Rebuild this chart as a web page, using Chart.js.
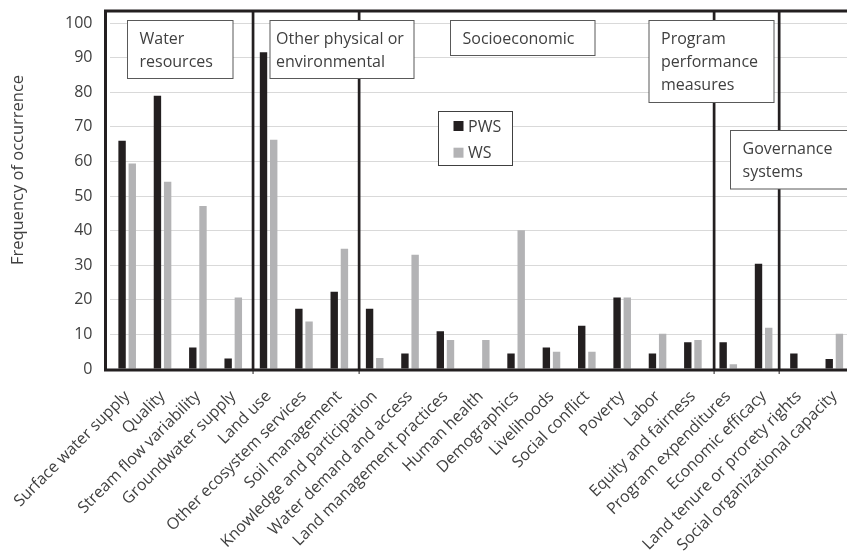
<!DOCTYPE html>
<html>
<head>
<meta charset="utf-8">
<script src="https://cdn.jsdelivr.net/npm/chart.js@4.4.1/dist/chart.umd.min.js"></script>
<style>
  html, body { margin: 0; padding: 0; background: #fff; overflow: hidden; }
  canvas { display: block; }
</style>
</head>
<body>
<canvas id="chart" width="852" height="558"></canvas>
<script>
// categories and values
const categories = [
    'Surface water supply', 'Quality', 'Stream flow variability', 'Groundwater supply',
    'Land use', 'Other ecosystem services', 'Soil management',
    'Knowledge and participation', 'Water demand and access', 'Land management practices',
    'Human health', 'Demographics', 'Livelihoods', 'Social conflict', 'Poverty', 'Labor',
    'Equity and fairness', 'Program expenditures', 'Economic efficacy',
    'Land tenure or prorety rights', 'Social organizational capacity'
];
const pwsValues = [66, 79, 6.2, 3, 91.6, 17.4, 22.3, 17.4, 4.5, 10.9, 0, 4.5, 6.2, 12.5, 20.7, 4.5, 7.7, 7.7, 30.4, 4.5, 2.9];
const wsValues  = [59.4, 54.1, 47.1, 20.7, 66.3, 13.7, 34.8, 3.2, 33, 8.4, 8.4, 40.1, 5, 5, 20.7, 10.2, 8.4, 1.4, 11.9, 0, 10.2];
const seriesNames = ['PWS', 'WS'];
const groupNames = [
    ['Water', 'resources'],
    ['Other physical or', 'environmental'],
    ['Socioeconomic'],
    ['Program', 'performance', 'measures'],
    ['Governance', 'systems']
];
const yTicks = [0, 10, 20, 30, 40, 50, 60, 70, 80, 90, 100];
const yMax = 103.5;

const FONT = '"Open Sans", sans-serif';
const TEXT = '#404040';
const colors = ['#231f20', '#b3b3b5'];

// frame, group separators, group boxes and legend
const decorations = {
    id: 'decorations',
    afterDraw(chart) {
        const ctx = chart.ctx;
        const area = chart.chartArea;
        const x = chart.scales.x;
        const x0 = x.getPixelForValue(0);
        const step = x.getPixelForValue(1) - x0;
        const top = area.top, bottom = area.bottom;

        ctx.save();
        ctx.strokeStyle = '#231f20';
        ctx.lineWidth = 3;
        ctx.beginPath();
        ctx.moveTo(area.left - 4, top);
        ctx.lineTo(area.right + 5, top);
        ctx.moveTo(area.left - 4, top - 1.5);
        ctx.lineTo(area.left - 4, bottom + 1);
        ctx.moveTo(area.left - 5.5, bottom + 1);
        ctx.lineTo(area.right + 5, bottom + 1);
        ctx.stroke();

        // separators between the groups, in category units
        [3.56, 6.56, 16.6, 18.44].forEach(u => {
            const px = x0 + u * step;
            ctx.lineWidth = 2.7;
            ctx.beginPath();
            ctx.moveTo(px, top);
            ctx.lineTo(px, bottom + 1);
            ctx.stroke();
            ctx.lineWidth = 1;
            ctx.beginPath();
            ctx.moveTo(px, bottom);
            ctx.lineTo(px, bottom + 5);
            ctx.stroke();
        });

        // group boxes
        const boxes = [
            [127.5, 20.5, 233, 78.5, 12],
            [270, 20.5, 414, 78.5, 6],
            [450.5, 20.5, 595, 55.5, 12],
            [649, 20.5, 774, 102.5, 12],
            [730.5, 130.5, 860, 189, 12]
        ];
        ctx.font = '16px ' + FONT;
        ctx.textBaseline = 'middle';
        ctx.textAlign = 'left';
        boxes.forEach((b, i) => {
            ctx.fillStyle = '#fff';
            ctx.fillRect(b[0], b[1], b[2] - b[0], b[3] - b[1]);
            ctx.strokeStyle = '#595959';
            ctx.lineWidth = 1;
            ctx.strokeRect(b[0], b[1], b[2] - b[0], b[3] - b[1]);
            ctx.fillStyle = TEXT;
            groupNames[i].forEach((line, j) => {
                ctx.fillText(line, b[0] + b[4], b[1] + 18.5 + j * 23);
            });
        });

        // legend
        ctx.fillStyle = '#fff';
        ctx.fillRect(438.5, 111.5, 74, 54);
        ctx.strokeStyle = '#404040';
        ctx.strokeRect(438.5, 111.5, 74, 54);
        chart.data.datasets.forEach((ds, i) => {
            const cy = 126 + i * 26.7;
            ctx.fillStyle = ds.backgroundColor;
            ctx.fillRect(453.5, cy - 5, 10, 10);
            ctx.fillStyle = TEXT;
            ctx.fillText(ds.label, 468, cy + 1);
        });

        // y axis title
        ctx.translate(18.5, 170);
        ctx.rotate(-Math.PI / 2);
        ctx.textAlign = 'center';
        ctx.font = '16.5px ' + FONT;
        ctx.fillStyle = TEXT;
        ctx.fillText('Frequency of occurrence', 0, 0);
        ctx.restore();
    }
};

new Chart(document.getElementById('chart'), {
    type: 'bar',
    data: {
        labels: categories,
        datasets: [
            { label: seriesNames[0], data: pwsValues, backgroundColor: colors[0] },
            { label: seriesNames[1], data: wsValues, backgroundColor: colors[1] }
        ]
    },
    options: {
        responsive: false,
        animation: false,
        devicePixelRatio: 1,
        layout: { padding: { top: 11, left: 0, right: 0, bottom: 0 } },
        categoryPercentage: 0.577,
        barPercentage: 0.725,
        plugins: {
            legend: { display: false },
            tooltip: { enabled: false }
        },
        scales: {
            x: {
                grid: { display: false, drawTicks: false },
                border: { display: false },
                ticks: {
                    minRotation: 45,
                    maxRotation: 45,
                    autoSkip: false,
                    padding: 18,
                    color: TEXT,
                    font: { family: FONT, size: 16 }
                },
                afterFit(scale) {
                    scale.height = 189;
                    scale.paddingLeft = 0;
                    scale.paddingRight = 0;
                }
            },
            y: {
                min: 0,
                max: yMax,
                grid: { color: '#d9d9d9', lineWidth: 1, drawTicks: false },
                border: { display: false },
                ticks: {
                    padding: 17,
                    color: TEXT,
                    font: { family: FONT, size: 16 }
                },
                afterBuildTicks(scale) {
                    scale.ticks = yTicks.map(v => ({ value: v }));
                },
                afterFit(scale) {
                    scale.width = 109.5;
                    scale.paddingTop = 0;
                    scale.paddingBottom = 0;
                }
            }
        }
    },
    plugins: [decorations]
});
</script>
</body>
</html>
